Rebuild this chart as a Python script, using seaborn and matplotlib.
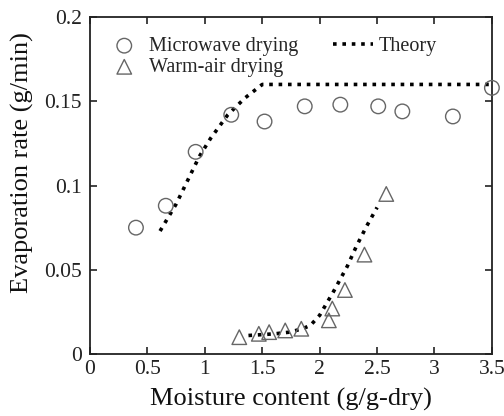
import matplotlib
matplotlib.use("Agg")
import matplotlib.pyplot as plt
import seaborn as sns
import pandas as pd

sns.set_theme(style="ticks")
plt.rcParams['font.family'] = ['Liberation Serif', 'DejaVu Serif']
plt.rcParams['mathtext.fontset'] = 'stix'

# Data
mw_x = [0.40, 0.66, 0.92, 1.23, 1.52, 1.87, 2.18, 2.51, 2.72, 3.16, 3.50]
mw_y = [0.075, 0.088, 0.120, 0.142, 0.138, 0.147, 0.148, 0.147, 0.144, 0.141, 0.158]

wa_x = [1.30, 1.47, 1.56, 1.70, 1.84, 2.08, 2.11, 2.22, 2.39, 2.58]
wa_y = [0.010, 0.012, 0.013, 0.014, 0.015, 0.020, 0.027, 0.038, 0.059, 0.095]

th_mw_x = [0.61, 0.75, 0.85, 0.95, 1.05, 1.20, 1.35, 1.50, 3.50]
th_mw_y = [0.073, 0.089, 0.103, 0.117, 0.128, 0.142, 0.152, 0.160, 0.160]

th_wa_x = [1.38, 1.61, 1.74, 1.85, 1.92, 2.00, 2.12, 2.24, 2.32, 2.41, 2.50]
th_wa_y = [0.011, 0.012, 0.013, 0.015, 0.017, 0.023, 0.037, 0.052, 0.064, 0.076, 0.087]

x_ticks = [0, 0.5, 1, 1.5, 2, 2.5, 3, 3.5]
x_tick_labels = ["0", "0.5", "1", "1.5", "2", "2.5", "3", "3.5"]
y_ticks = [0, 0.05, 0.1, 0.15, 0.2]
y_tick_labels = ["0", "0.05", "0.1", "0.15", "0.2"]

fig = plt.figure(figsize=(5.04, 4.16), dpi=100)
ax = fig.add_axes([0.1786, 0.149, 0.7974, 0.81])

gray = "#666666"
dots = (0, (1, 1.6))
sns.lineplot(x=th_mw_x, y=th_mw_y, ax=ax, color="black", linestyle=dots,
             linewidth=2.6, sort=False, label="Theory", estimator=None)
sns.lineplot(x=th_wa_x, y=th_wa_y, ax=ax, color="black", linestyle=dots,
             linewidth=2.6, sort=False, estimator=None, legend=False)
sns.scatterplot(x=mw_x, y=mw_y, ax=ax, marker="o", s=110, facecolor="none",
                edgecolor=gray, linewidth=1.0, label="Microwave drying", clip_on=False, zorder=3)
sns.scatterplot(x=wa_x, y=wa_y, ax=ax, marker="^", s=110, facecolor="none",
                edgecolor=gray, linewidth=1.0, label="Warm-air drying", clip_on=False, zorder=3)

ax.set_xlim(0, 3.5)
ax.set_ylim(0, 0.2)
ax.set_xticks(x_ticks)
ax.set_xticklabels(x_tick_labels)
ax.set_yticks(y_ticks)
ax.set_yticklabels(y_tick_labels)
ax.tick_params(direction="in", length=5, width=1.2, top=True, right=True,
               labelsize=15.5, colors="#222222", pad=4)
ax.tick_params(axis="y", pad=6)
for sp in ax.spines.values():
    sp.set_visible(True)
    sp.set_linewidth(1.3)
    sp.set_color("#222222")

ax.set_xlabel("Moisture content (g/g-dry)", fontsize=19, color="#111111", labelpad=7)
ax.set_ylabel("Evaporation rate (g/min)", fontsize=19, color="#111111")
ax.yaxis.set_label_coords(-0.14, 0.567)

handles, labels = ax.get_legend_handles_labels()
order = [labels.index("Microwave drying"), labels.index("Warm-air drying"), labels.index("Theory")]
ax.legend([handles[i] for i in order], [labels[i] for i in order], ncol=2,
          loc="upper left", frameon=False, fontsize=14.5, handlelength=2.0,
          handletextpad=0.25, columnspacing=1.7, labelspacing=0.1,
          bbox_to_anchor=(-0.01, 0.995), borderaxespad=0.5)

fig.savefig("out.png", dpi=100)
